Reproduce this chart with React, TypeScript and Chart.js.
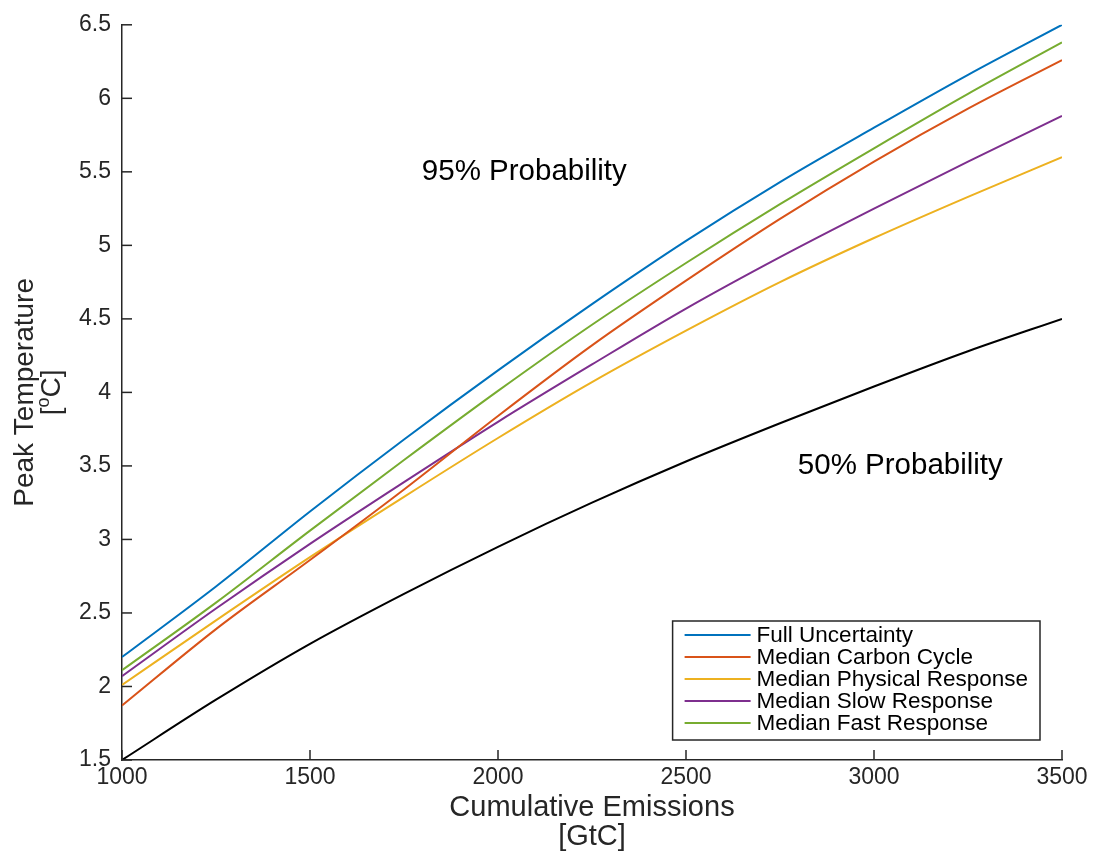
import React, { useEffect, useRef } from "react";
import { Chart, registerables } from "chart.js";

Chart.register(...registerables);

// ---- data ----
const emissions = [1000, 1250, 1500, 1750, 2000, 2250, 2500, 2750, 3000, 3250, 3500];
const fullUncertainty = [2.2, 2.68, 3.19, 3.68, 4.15, 4.6, 5.03, 5.43, 5.8, 6.16, 6.5];
const medianCarbonCycle = [1.87, 2.39, 2.86, 3.34, 3.84, 4.32, 4.76, 5.18, 5.57, 5.93, 6.26];
const medianPhysicalResponse = [2.01, 2.45, 2.88, 3.29, 3.69, 4.07, 4.42, 4.75, 5.05, 5.33, 5.6];
const medianSlowResponse = [2.07, 2.53, 2.97, 3.39, 3.8, 4.19, 4.57, 4.92, 5.25, 5.57, 5.88];
const medianFastResponse = [2.11, 2.57, 3.06, 3.54, 4.01, 4.46, 4.88, 5.28, 5.66, 6.03, 6.38];
const fiftyPercent = [1.5, 1.91, 2.29, 2.63, 2.95, 3.25, 3.53, 3.79, 4.04, 4.28, 4.5];

const seriesLabels = [
  "Full Uncertainty",
  "Median Carbon Cycle",
  "Median Physical Response",
  "Median Slow Response",
  "Median Fast Response",
];
const seriesColors = ["#0072BD", "#D95319", "#EDB120", "#7E2F8E", "#77AC30"];
const seriesValues = [
  fullUncertainty,
  medianCarbonCycle,
  medianPhysicalResponse,
  medianSlowResponse,
  medianFastResponse,
];

const annotations = [
  { text: "95% Probability", x: 2070, y: 5.5 },
  { text: "50% Probability", x: 3070, y: 3.5 },
];

const xTitle = ["Cumulative Emissions", "[GtC]"];
const yTitleLine1 = "Peak Temperature";

const FONT = '"Liberation Sans", Arial, Helvetica, sans-serif';
const AXIS = "#262626";

const overlayPlugin = {
  id: "overlay",
  afterDraw(chart: any) {
    const { ctx, chartArea, scales } = chart;
    const xs = scales.x;
    const ys = scales.y;
    ctx.save();

    // inward ticks
    ctx.strokeStyle = AXIS;
    ctx.lineWidth = 1.5;
    xs.ticks.forEach((t: any) => {
      const px = xs.getPixelForValue(t.value);
      ctx.beginPath();
      ctx.moveTo(px, chartArea.bottom);
      ctx.lineTo(px, chartArea.bottom - 10);
      ctx.stroke();
    });
    ys.ticks.forEach((t: any) => {
      const py = ys.getPixelForValue(t.value);
      ctx.beginPath();
      ctx.moveTo(chartArea.left, py);
      ctx.lineTo(chartArea.left + 10, py);
      ctx.stroke();
    });

    // annotations
    ctx.fillStyle = "#000";
    ctx.font = `29.5px ${FONT}`;
    ctx.textAlign = "center";
    ctx.textBaseline = "middle";
    annotations.forEach((a) => {
      ctx.fillText(a.text, xs.getPixelForValue(a.x), ys.getPixelForValue(a.y));
    });

    // x title
    const cx = (chartArea.left + chartArea.right) / 2;
    ctx.fillStyle = AXIS;
    ctx.font = `29px ${FONT}`;
    ctx.fillText(xTitle[0], cx, chartArea.bottom + 48);
    ctx.fillText(xTitle[1], cx, chartArea.bottom + 77);

    // y title (rotated)
    const cy = (chartArea.top + chartArea.bottom) / 2;
    ctx.font = `28px ${FONT}`;
    ctx.save();
    ctx.translate(25, cy);
    ctx.rotate(-Math.PI / 2);
    ctx.fillText(yTitleLine1, 0, 0);
    ctx.restore();
    ctx.save();
    ctx.translate(52, cy);
    ctx.rotate(-Math.PI / 2);
    const big = `28px ${FONT}`;
    const small = `18px ${FONT}`;
    ctx.font = big;
    const w1 = ctx.measureText("[").width;
    const w3 = ctx.measureText("C]").width;
    ctx.font = small;
    const w2 = ctx.measureText("o").width;
    let sx = -(w1 + w2 + w3) / 2;
    ctx.textAlign = "left";
    ctx.font = big;
    ctx.fillText("[", sx, 0);
    sx += w1;
    ctx.font = small;
    ctx.fillText("o", sx, -8);
    sx += w2;
    ctx.font = big;
    ctx.fillText("C]", sx, 0);
    ctx.restore();

    // legend
    ctx.font = `22.5px ${FONT}`;
    let maxW = 0;
    seriesLabels.forEach((l) => {
      maxW = Math.max(maxW, ctx.measureText(l).width);
    });
    const boxW = 12 + 66 + 6 + maxW + 12;
    const rowH = 22;
    const boxH = 14 + 4 * rowH + 17;
    const bx = chartArea.right - 22 - boxW;
    const by = chartArea.bottom - 20 - boxH;
    ctx.fillStyle = "#fff";
    ctx.fillRect(bx, by, boxW, boxH);
    ctx.strokeStyle = AXIS;
    ctx.lineWidth = 1.5;
    ctx.strokeRect(bx, by, boxW, boxH);
    ctx.textAlign = "left";
    ctx.textBaseline = "middle";
    seriesLabels.forEach((l, i) => {
      const ry = by + 14 + i * rowH;
      ctx.strokeStyle = seriesColors[i];
      ctx.lineWidth = 2;
      ctx.beginPath();
      ctx.moveTo(bx + 12, ry);
      ctx.lineTo(bx + 78, ry);
      ctx.stroke();
      ctx.fillStyle = "#000";
      ctx.fillText(l, bx + 84, ry + 1);
    });

    ctx.restore();
  },
};

export default function App() {
  const ref = useRef<HTMLCanvasElement | null>(null);

  useEffect(() => {
    document.body.style.margin = "0";
    const canvas = ref.current;
    if (!canvas) return;
    const toPts = (vals: number[]) => emissions.map((x, i) => ({ x, y: vals[i] }));
    const datasets: any[] = seriesValues.map((vals, i) => ({
      label: seriesLabels[i],
      data: toPts(vals),
      borderColor: seriesColors[i],
      borderWidth: 2,
      pointRadius: 0,
      cubicInterpolationMode: "monotone",
      fill: false,
    }));
    datasets.push({
      label: "50% Probability",
      data: toPts(fiftyPercent),
      borderColor: "#000",
      borderWidth: 2,
      pointRadius: 0,
      cubicInterpolationMode: "monotone",
      fill: false,
    });
    const chart = new Chart(canvas, {
      type: "line",
      data: { datasets },
      options: {
        responsive: false,
        animation: false,
        layout: { autoPadding: false, padding: { top: 21, right: 33, left: 0, bottom: 0 } },
        plugins: { legend: { display: false }, tooltip: { enabled: false } },
        scales: {
          x: {
            type: "linear",
            min: 1000,
            max: 3500,
            afterFit: (s: any) => {
              s.height = 93;
            },
            ticks: {
              stepSize: 500,
              padding: 4,
              color: AXIS,
              font: { family: FONT, size: 23 },
              callback: (v: any) => String(v),
              maxRotation: 0,
            },
            grid: { display: true, drawOnChartArea: false, drawTicks: false },
            border: { display: true, color: AXIS, width: 1.5 },
          },
          y: {
            type: "linear",
            min: 1.5,
            max: 6.5,
            afterFit: (s: any) => {
              s.width = 122;
            },
            ticks: {
              stepSize: 0.5,
              padding: 11,
              color: AXIS,
              font: { family: FONT, size: 23 },
              callback: (v: any) => String(v),
            },
            grid: { display: true, drawOnChartArea: false, drawTicks: false },
            border: { display: true, color: AXIS, width: 1.5 },
          },
        },
      },
      plugins: [overlayPlugin],
    });
    return () => chart.destroy();
  }, []);

  return (
    <canvas
      ref={ref}
      width={1095}
      height={853}
      style={{ display: "block", width: 1095, height: 853 }}
    />
  );
}
